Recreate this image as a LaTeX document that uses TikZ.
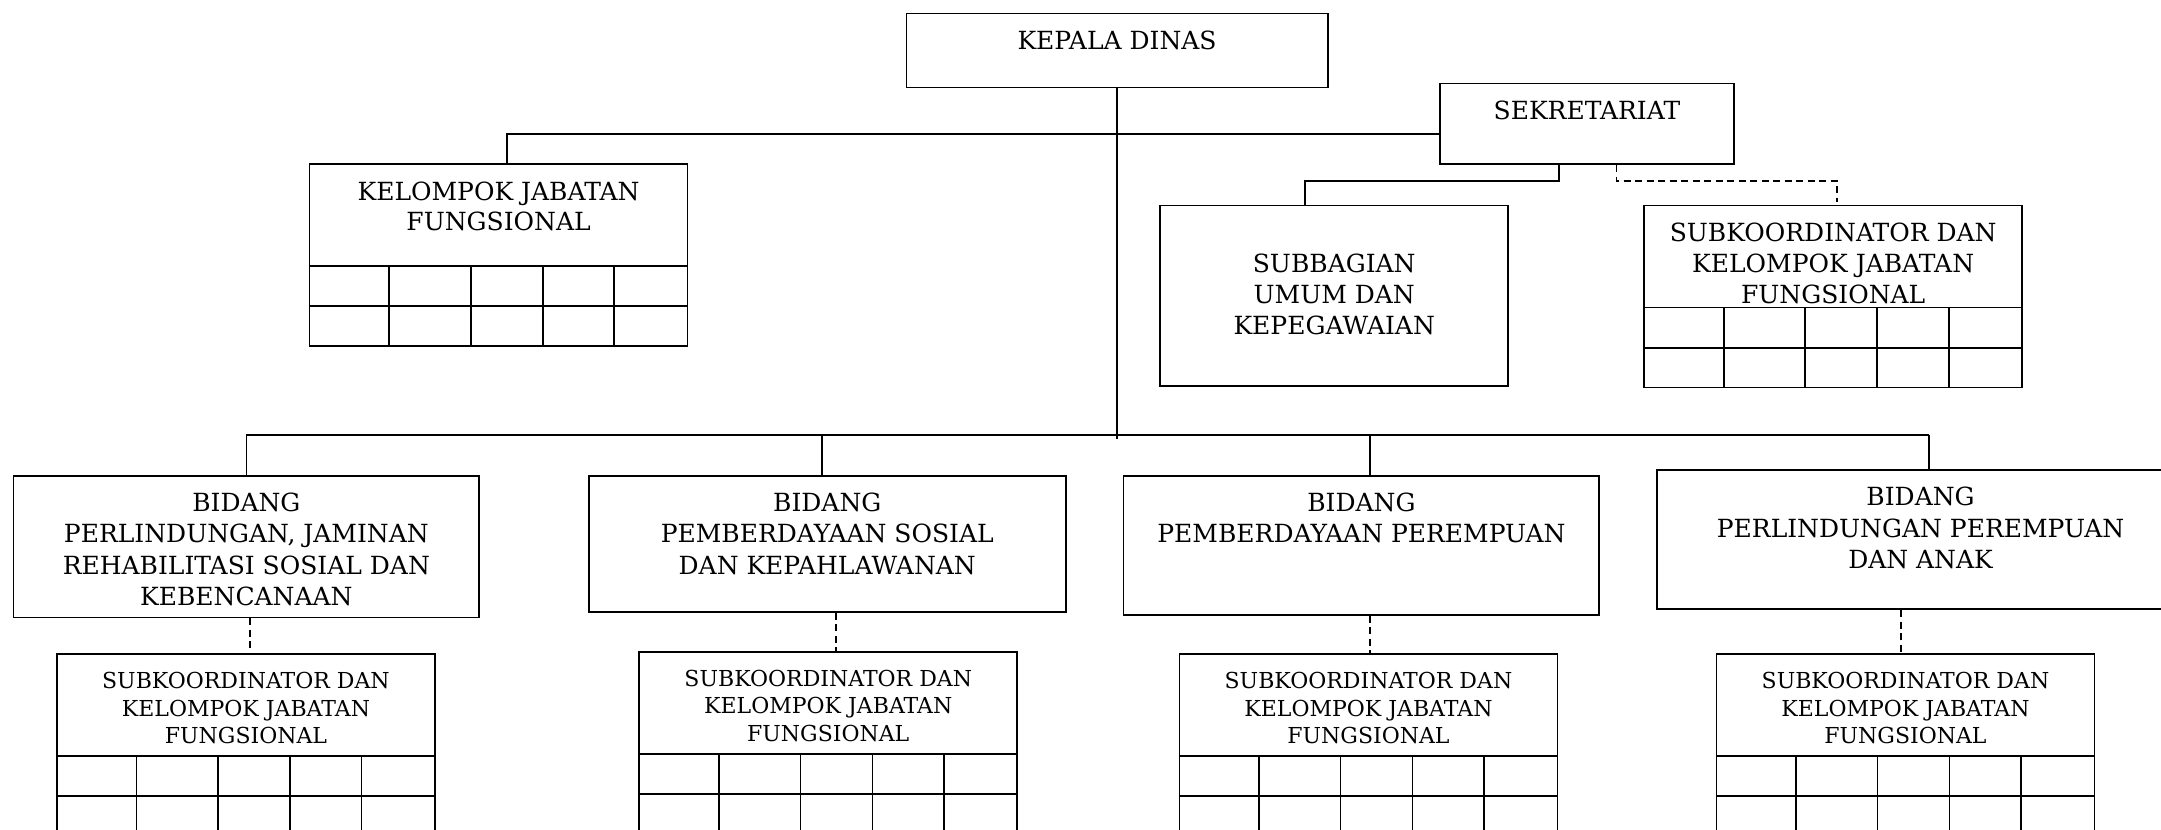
\documentclass[tikz,border=0pt]{standalone}
\usepackage{fontspec}
\setmainfont{DejaVu Serif}
\begin{document}
\begin{tikzpicture}[x=1pt,y=-1pt,
  box/.style={draw, line width=1.7pt, inner sep=0pt, anchor=north west},
  tablebox/.style={box, minimum width=378pt, minimum height=182pt},
  gridline/.style={line width=1.7pt},
  link/.style={line width=1.7pt},
  dashlink/.style={line width=1.7pt, dash pattern=on 7pt off 4.5pt},
  txt/.style={inner sep=0pt, align=center, anchor=north, font=\fontsize{25}{31.3}\selectfont},
  smalltxt/.style={txt, font=\fontsize{22}{27.5}\selectfont}]

\clip (0,0) rectangle (2161,830);
\fill[white] (0,0) rectangle (2161,830);

% grid rows and columns inside a table box
\newcommand\fgrid[1]{%
  \foreach \yy in {102.7,143}
    \draw[gridline] ([yshift=-\yy pt]#1.north west) -- ([yshift=-\yy pt]#1.north east);
  \foreach \xx in {80.5,162,234,305.5}
    \draw[gridline] ([xshift=\xx pt,yshift=-102.7pt]#1.north west) -- ([xshift=\xx pt]#1.south west);
}

% ---- boxes ----
\node[box, minimum width=421.2pt, minimum height=74pt] (kd) at (905.6,12.7) {};
\node[box, minimum width=293.7pt, minimum height=80.6pt] (sek) at (1439.2,82.7) {};
\node[tablebox] (kjf) at (308.7,163.3) {};
\node[box, minimum width=348.1pt, minimum height=180.3pt] (sub) at (1159.3,204.7) {};
\node[tablebox] (sk0) at (1643.3,204.7) {};
\node[box, minimum width=465.8pt, minimum height=141.7pt] (b1) at (12.6,475) {};
\node[box, minimum width=477pt, minimum height=136pt] (b2) at (587.9,475) {};
\node[box, minimum width=475.7pt, minimum height=139pt] (b3) at (1122.7,475) {};
\node[box, minimum width=526.6pt, minimum height=139pt] (b4) at (1656.4,469.3) {};
\node[tablebox] (s1) at (56.1,653.3) {};
\node[tablebox] (s2) at (638.4,651) {};
\node[tablebox] (s3) at (1178.6,653.3) {};
\node[tablebox] (s4) at (1715.6,653.3) {};

\fgrid{kjf}\fgrid{sk0}\fgrid{s1}\fgrid{s2}\fgrid{s3}\fgrid{s4}

% ---- labels ----
\node[txt] (kdT) at ([yshift=-18.3pt]kd.north) {KEPALA DINAS};
\node[txt] (sekT) at ([yshift=-18.3pt]sek.north) {SEKRETARIAT};
\node[txt, font=\fontsize{25}{30}\selectfont] (kjfT) at ([yshift=-18.4pt]kjf.north) {KELOMPOK JABATAN\\FUNGSIONAL};
\node[txt] (subT) at ([yshift=-48.6pt]sub.north) {SUBBAGIAN\\UMUM DAN\\KEPEGAWAIAN};
\node[txt, font=\fontsize{25}{30.8}\selectfont] (sk0T) at ([yshift=-18pt]sk0.north) {SUBKOORDINATOR DAN\\KELOMPOK JABATAN\\FUNGSIONAL};
\node[txt] (b1T) at ([yshift=-17.7pt]b1.north) {BIDANG\\PERLINDUNGAN, JAMINAN\\REHABILITASI SOSIAL DAN\\KEBENCANAAN};
\node[txt] (b2T) at ([yshift=-17.7pt]b2.north) {BIDANG\\PEMBERDAYAAN SOSIAL\\DAN KEPAHLAWANAN};
\node[txt] (b3T) at ([yshift=-17.7pt]b3.north) {BIDANG\\PEMBERDAYAAN PEREMPUAN};
\node[txt] (b4T) at ([yshift=-17.7pt]b4.north) {BIDANG\\PERLINDUNGAN PEREMPUAN\\DAN ANAK};
\node[smalltxt] (s1T) at ([yshift=-18.7pt]s1.north) {SUBKOORDINATOR DAN\\KELOMPOK JABATAN\\FUNGSIONAL};
\node[smalltxt] (s2T) at ([yshift=-18.7pt]s2.north) {SUBKOORDINATOR DAN\\KELOMPOK JABATAN\\FUNGSIONAL};
\node[smalltxt] (s3T) at ([yshift=-18.7pt]s3.north) {SUBKOORDINATOR DAN\\KELOMPOK JABATAN\\FUNGSIONAL};
\node[smalltxt] (s4T) at ([yshift=-18.7pt]s4.north) {SUBKOORDINATOR DAN\\KELOMPOK JABATAN\\FUNGSIONAL};

% ---- connectors ----
\coordinate (bus) at (1117.9,435);
\coordinate (jrow) at (1586,181);

% main trunk and upper branch
\draw[link] (kd.south) -- ([yshift=-4pt]kd.south |- bus);
\draw[link] ([xshift=8.4pt]kjf.north) -- ([xshift=8.4pt,yshift=-10.3pt]kjf.north |- sek.west) -- ([yshift=-10.3pt]sek.west);

% lower bus to the four divisions
\draw[link] (b1.north |- bus) -- ([xshift=8.3pt]b4.north |- bus);
\draw[link] (b1.north |- bus) -- (b1.north);
\draw[link] ([xshift=-5.6pt]b2.north |- bus) -- ([xshift=-5.6pt]b2.north);
\draw[link] ([xshift=8.4pt]b3.north |- bus) -- ([xshift=8.4pt]b3.north);
\draw[link] ([xshift=8.3pt]b4.north |- bus) -- ([xshift=8.3pt]b4.north);

% divisions to their functional groups
\draw[dashlink] ([xshift=3.5pt]b1.south) -- ([xshift=3.5pt]b1.south |- s1.north);
\draw[dashlink] ([xshift=8.4pt]b2.south) -- ([xshift=8.4pt]b2.south |- s2.north);
\draw[dashlink] ([xshift=8.4pt]b3.south) -- ([xshift=8.4pt]b3.south |- s3.north);
\draw[dashlink] ([xshift=-19.3pt]b4.south) -- ([xshift=-19.3pt]b4.south |- s4.north);

% secretariat branches
\draw[link] ([xshift=-28.2pt]sek.south) -- ([xshift=-28.2pt]sek.south |- jrow) -| ([xshift=-29.4pt]sub.north);
\draw[dashlink] ([xshift=29.7pt]sek.south) -- ([xshift=29.7pt]sek.south |- jrow) -| ([xshift=3.8pt,yshift=3pt]sk0.north);
\end{tikzpicture}
\end{document}
